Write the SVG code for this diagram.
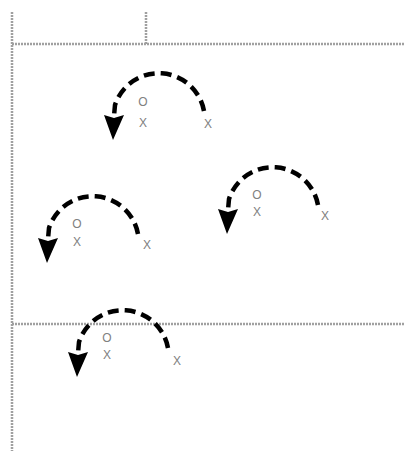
<svg xmlns="http://www.w3.org/2000/svg" xmlns:xlink="http://www.w3.org/1999/xlink" width="404" height="451" viewBox="0 0 404 451">
  <style>
    .rule { stroke: #a0a0a0; stroke-width: 2.5; fill: none; stroke-dasharray: 2 1; }
    .path { fill: none; stroke: #000; stroke-width: 4.5; stroke-dasharray: 11 6; stroke-linecap: butt; }
    .head { fill: #000; }
    .mark { font-family: "Liberation Sans", Arial, sans-serif; font-size: 12px; fill: #808080; text-anchor: middle; }
  </style>
  <defs>
    <!-- curved dashed move arrow, origin at the O marker -->
    <g id="hop">
      <path class="path" d="M61,10 A46,46 0 0 0 -28,4 L-29,15"/>
      <polygon class="head" points="-39,14 -29,17 -19,14 -30,39"/>
    </g>
  </defs>

  <!-- field lines -->
  <g id="lines">
    <line class="rule" x1="12" y1="12" x2="12" y2="451"/>
    <line class="rule" x1="12" y1="44" x2="404" y2="44"/>
    <line class="rule" x1="146" y1="12" x2="146" y2="44"/>
    <line class="rule" x1="12" y1="324" x2="404" y2="324"/>
  </g>

  <!-- connectors -->
  <g id="connectors">
    <use xlink:href="#hop" transform="translate(143,101)"/>
    <use xlink:href="#hop" transform="translate(77,224)"/>
    <use xlink:href="#hop" transform="translate(257,195)"/>
    <use xlink:href="#hop" transform="translate(107,338)"/>
  </g>

  <g id="group1">
    <text class="mark" x="143" y="106">O</text>
    <text class="mark" x="143" y="127">X</text>
    <text class="mark" x="208" y="128">X</text>
  </g>
  <g id="group2">
    <text class="mark" x="77" y="228">O</text>
    <text class="mark" x="77" y="246">X</text>
    <text class="mark" x="147" y="249">X</text>
  </g>
  <g id="group3">
    <text class="mark" x="257" y="199">O</text>
    <text class="mark" x="257" y="216">X</text>
    <text class="mark" x="325" y="220">X</text>
  </g>
  <g id="group4">
    <text class="mark" x="107" y="342">O</text>
    <text class="mark" x="107" y="359">X</text>
    <text class="mark" x="177" y="365">X</text>
  </g>
</svg>
